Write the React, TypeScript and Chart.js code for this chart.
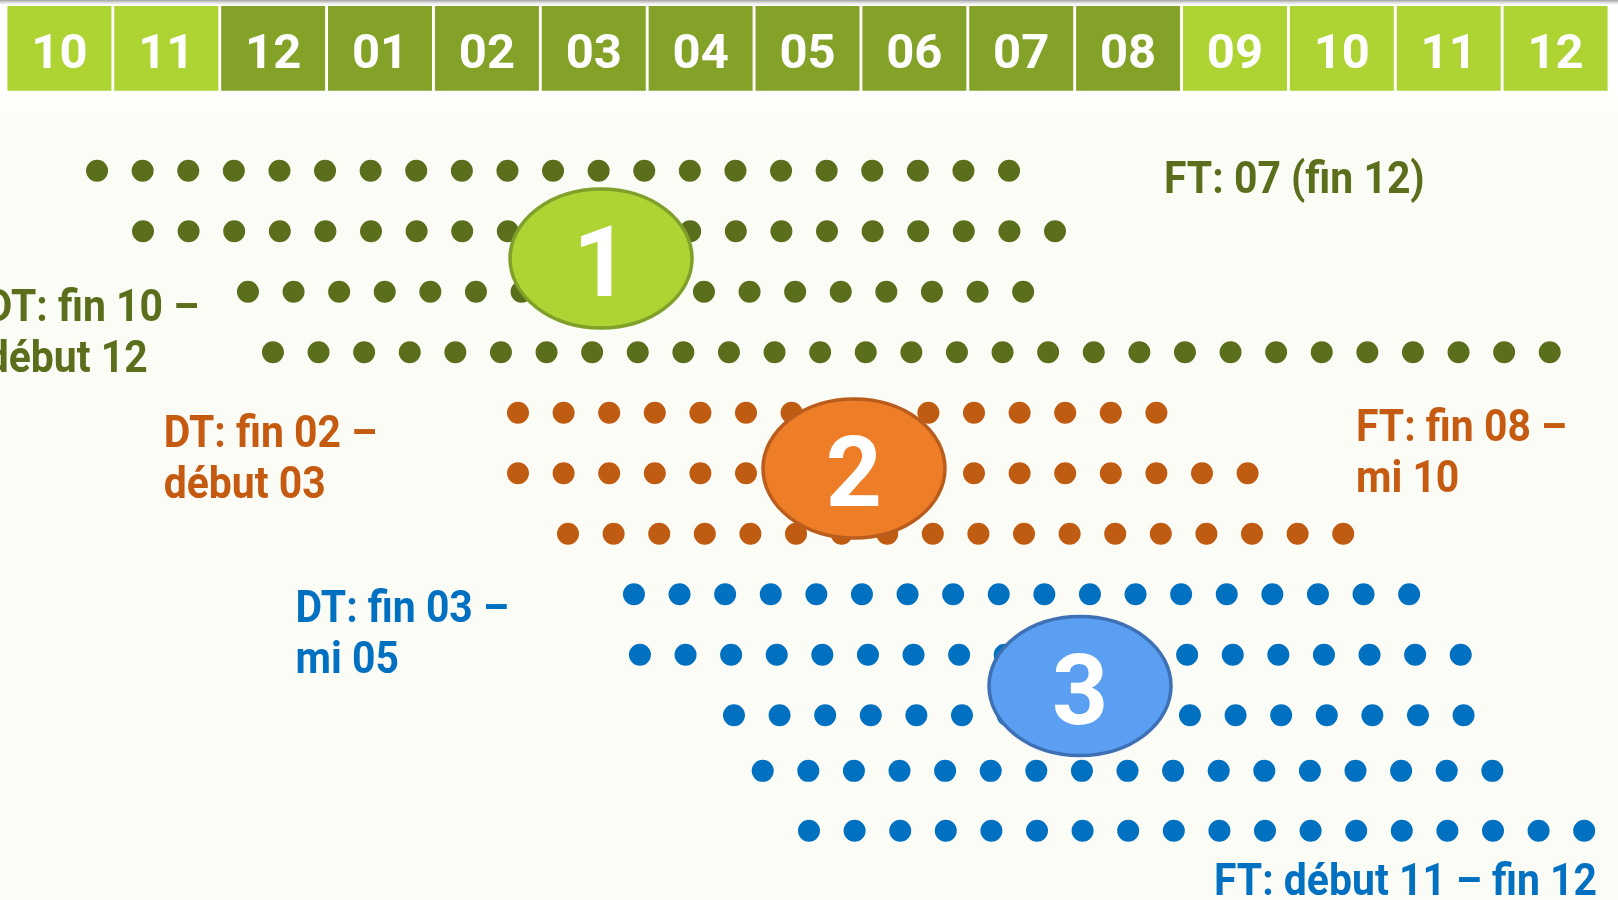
import React, { useEffect, useRef } from "react";
import { Chart, registerables } from "chart.js";

Chart.register(...registerables);

// ---------- DATA ----------
// Timeline header (months, Oct of year N-1 to Dec of year N+1)
const MONTHS = ["10", "11", "12", "01", "02", "03", "04", "05", "06", "07", "08", "09", "10", "11", "12"];
const MONTH_PHASE = ["light", "light", "dark", "dark", "dark", "dark", "dark", "dark", "dark", "dark", "dark", "light", "light", "light", "light"];
const HEADER_BAND = [0, 1];

// Dotted rows: start / end in month units (0 = start of first "10"), lane index
const GREEN_START = [0.852, 1.282, 2.264, 2.498];
const GREEN_END = [9.43, 9.86, 9.56, 14.49];
const GREEN_LANE = [0, 1, 2, 3];

const ORANGE_START = [4.791, 4.791, 5.259];
const ORANGE_END = [10.8, 11.66, 12.55];
const ORANGE_LANE = [4, 5, 6];

const BLUE_START = [5.876, 5.932, 6.812, 7.081, 7.514];
const BLUE_END = [13.17, 13.65, 13.68, 13.95, 14.8];
const BLUE_LANE = [7, 8, 9, 9.92, 10.91];

// Numbered badges
const BADGE_LABELS = ["1", "2", "3"];
const BADGE_X = [5.568, 7.935, 10.05];
const BADGE_Y = [1.451, 4.922, 8.517];

// Notes (DT / FT)
const NOTE_LINES = [
  ["DT: fin 10 –", "début 12"],
  ["FT: 07 (fin 12)"],
  ["DT: fin 02 –", "début 03"],
  ["FT: fin 08 –", "mi 10"],
  ["DT: fin 03 –", "mi 05"],
  ["FT: début 11 – fin 12"],
];
const NOTE_GROUP = [0, 0, 1, 1, 2, 2];
const NOTE_X = [-0.19, 10.836, 1.475, 12.632, 2.709, 11.303];
const NOTE_Y = [2.484, 0.364, 4.562, 4.463, 7.464, 11.972];

// ---------- STYLE ----------
const LIGHT_GREEN = "#ADD433";
const DARK_GREEN = "#84A227";
const DOT_COLORS = ["#5A6E1B", "#C05B12", "#0070C0"];
const TEXT_COLORS = ["#5A6E1B", "#C55A11", "#0070C0"];
const BADGE_FILL = ["#ADD433", "#EE7D27", "#5A9FF2"];
const BADGE_STROKE = ["#7FA02A", "#BA5D1C", "#3E70B6"];
const DOT_PITCH = 45.6;
const DOT_SIZE = 22;
const FONT = "Roboto, 'Open Sans', sans-serif";

function rowDatasets(starts: number[], ends: number[], lanes: number[], color: string, name: string) {
  return starts.map((s, i) => ({
    type: "line" as const,
    label: `${name} ${i + 1}`,
    data: [
      { x: s, y: lanes[i] },
      { x: ends[i], y: lanes[i] },
    ],
    xAxisID: "x",
    yAxisID: "y",
    borderColor: color,
    backgroundColor: color,
    borderWidth: DOT_SIZE,
    borderDash: [0, DOT_PITCH],
    borderCapStyle: "round" as const,
    pointRadius: 0,
    tension: 0,
    fill: false,
    clip: false as any,
    order: 1,
  }));
}

const backgroundPlugin = {
  id: "pageBackground",
  beforeDraw(chart: any) {
    const { ctx, width, height } = chart;
    ctx.save();
    ctx.fillStyle = "#FCFCF7";
    ctx.fillRect(0, 0, width, height);
    const g = ctx.createLinearGradient(0, 90, 0, 130);
    g.addColorStop(0, "#FFFFFF");
    g.addColorStop(1, "rgba(252,252,247,0)");
    ctx.fillStyle = "#FFFFFF";
    ctx.fillRect(0, 0, width, 96);
    ctx.fillStyle = g;
    ctx.fillRect(0, 96, width, 34);
    const t = ctx.createLinearGradient(0, 0, 0, 5);
    t.addColorStop(0, "#A0A0A0");
    t.addColorStop(1, "rgba(200,200,200,0)");
    ctx.fillStyle = t;
    ctx.fillRect(0, 0, width, 5);
    ctx.restore();
  },
};

function drawSquashed(ctx: CanvasRenderingContext2D, text: string, x: number, y: number, sx: number) {
  ctx.save();
  ctx.translate(x, y);
  ctx.scale(sx, 1);
  ctx.fillText(text, 0, 0);
  ctx.restore();
}

const annotationPlugin = {
  id: "annotations",
  afterDatasetsDraw(chart: any) {
    const { ctx } = chart;
    const xs = chart.scales.x;
    const ys = chart.scales.y;

    // header month labels
    const meta = chart.getDatasetMeta(0);
    ctx.save();
    ctx.fillStyle = "#FFFFFF";
    ctx.font = `bold 49px ${FONT}`;
    ctx.textAlign = "center";
    ctx.textBaseline = "alphabetic";
    meta.data.forEach((el: any, i: number) => {
      const top = Math.min(el.y, el.base);
      const bottom = Math.max(el.y, el.base);
      ctx.fillText(MONTHS[i], el.x, top + (bottom - top) * 0.735);
    });
    ctx.restore();

    // badges
    BADGE_LABELS.forEach((lab, i) => {
      const cx = xs.getPixelForValue(BADGE_X[i]);
      const cy = ys.getPixelForValue(BADGE_Y[i]);
      ctx.save();
      ctx.beginPath();
      ctx.ellipse(cx, cy, 91, 69.5, 0, 0, Math.PI * 2);
      ctx.fillStyle = BADGE_FILL[i];
      ctx.fill();
      ctx.lineWidth = 3.5;
      ctx.strokeStyle = BADGE_STROKE[i];
      ctx.stroke();
      ctx.fillStyle = "#FFFFFF";
      ctx.font = `bold 98px ${FONT}`;
      ctx.textAlign = "center";
      ctx.textBaseline = "alphabetic";
      ctx.fillText(lab, cx, cy + 38);
      ctx.restore();
    });

    // notes
    NOTE_LINES.forEach((lines, i) => {
      const x = xs.getPixelForValue(NOTE_X[i]);
      const y = ys.getPixelForValue(NOTE_Y[i]);
      ctx.save();
      ctx.fillStyle = TEXT_COLORS[NOTE_GROUP[i]];
      ctx.font = `bold 44px ${FONT}`;
      ctx.textAlign = "left";
      ctx.textBaseline = "alphabetic";
      lines.forEach((line, j) => drawSquashed(ctx, line, x, y + j * 51, 0.93));
      ctx.restore();
    });
  },
};

export default function App() {
  const canvasRef = useRef<HTMLCanvasElement | null>(null);

  useEffect(() => {
    const canvas = canvasRef.current;
    if (!canvas) return;
    const chart = new Chart(canvas, {
      type: "bar",
      data: {
        labels: MONTHS,
        datasets: [
          {
            type: "bar",
            label: "Mois",
            data: MONTHS.map(() => HEADER_BAND as any),
            xAxisID: "xm",
            yAxisID: "yh",
            backgroundColor: MONTH_PHASE.map((p) => (p === "light" ? LIGHT_GREEN : DARK_GREEN)),
            borderWidth: 0,
            grouped: false,
            barPercentage: 0.973,
            categoryPercentage: 1,
            order: 2,
          } as any,
          ...rowDatasets(GREEN_START, GREEN_END, GREEN_LANE, DOT_COLORS[0], "Phase 1"),
          ...rowDatasets(ORANGE_START, ORANGE_END, ORANGE_LANE, DOT_COLORS[1], "Phase 2"),
          ...rowDatasets(BLUE_START, BLUE_END, BLUE_LANE, DOT_COLORS[2], "Phase 3"),
        ] as any,
      },
      options: {
        animation: false,
        responsive: false,
        events: [],
        layout: { padding: { left: 6, right: 9, top: 0, bottom: 0 } },
        plugins: { legend: { display: false }, tooltip: { enabled: false } },
        scales: {
          xm: { type: "category", display: false, offset: true },
          yh: { type: "linear", display: false, reverse: true, min: -0.0708, max: 10.555, beginAtZero: false },
          x: { type: "linear", display: false, offset: false, min: 0, max: 15 },
          y: { type: "linear", display: false, reverse: true, min: -2.8215, max: 12.0545, beginAtZero: false },
        },
      } as any,
      plugins: [backgroundPlugin, annotationPlugin],
    });
    if ((document as any).fonts) {
      (document as any).fonts.load(`bold 44px Roboto`).then(() => chart.draw()).catch(() => {});
    }
    return () => chart.destroy();
  }, []);

  return (
    <div style={{ position: "fixed", left: 0, top: 0, width: 1618, height: 900, background: "#FCFCF7" }}>
      <canvas ref={canvasRef} width={1618} height={900} style={{ display: "block", width: 1618, height: 900 }} />
    </div>
  );
}
